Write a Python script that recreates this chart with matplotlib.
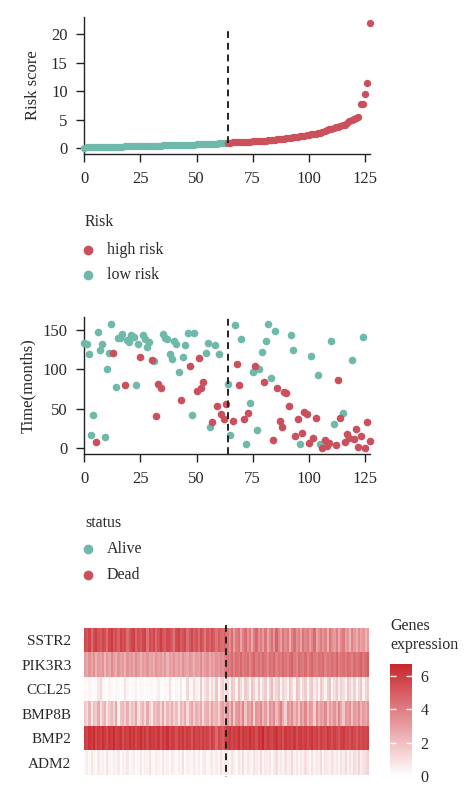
import matplotlib
matplotlib.use("Agg")
import matplotlib.pyplot as plt
import numpy as np
from matplotlib.colors import LinearSegmentedColormap
from matplotlib.lines import Line2D

plt.rcParams['font.family'] = ['Liberation Serif', 'DejaVu Serif']

# ---------------- data ----------------
risk_low = [0.12, 0.14, 0.15, 0.17, 0.18, 0.19, 0.20, 0.21, 0.22, 0.23,
            0.24, 0.25, 0.26, 0.27, 0.28, 0.29, 0.30, 0.31, 0.32, 0.33,
            0.34, 0.35, 0.36, 0.37, 0.38, 0.39, 0.40, 0.41, 0.42, 0.43,
            0.44, 0.45, 0.46, 0.47, 0.48, 0.49, 0.50, 0.51, 0.52, 0.53,
            0.54, 0.55, 0.56, 0.57, 0.58, 0.60, 0.61, 0.62, 0.64, 0.65,
            0.67, 0.68, 0.70, 0.71, 0.73, 0.75, 0.77, 0.79, 0.81, 0.83,
            0.85, 0.88, 0.91, 0.95]
risk_high = [0.98, 1.00, 1.02, 1.04, 1.06, 1.08, 1.10, 1.12, 1.14, 1.16,
             1.18, 1.20, 1.22, 1.24, 1.26, 1.29, 1.32, 1.35, 1.38, 1.41,
             1.45, 1.50, 1.55, 1.60, 1.65, 1.70, 1.76, 1.82, 1.88, 1.94,
             2.00, 2.06, 2.12, 2.18, 2.24, 2.30, 2.36, 2.43, 2.50, 2.58,
             2.66, 2.75, 2.85, 3.00, 3.20, 3.35, 3.45, 3.55, 3.65, 3.75,
             3.85, 4.00, 4.15, 4.40, 4.70, 5.00, 5.20, 5.30, 5.40, 7.70,
             7.80, 9.50, 11.50, 21.90]

# survival time (months) and status (1 = Dead, 0 = Alive), patients ordered by risk
surv_time = [133, 132, 120, 17, 42, 8, 148, 125, 132, 14,
             101, 121, 158, 121, 78, 140, 140, 145, 80, 137,
             135, 144, 141, 80, 132, 116, 144, 139, 129, 135,
             112, 111, 41, 82, 77, 145, 140, 139, 120, 113,
             136, 132, 97, 61, 116, 131, 146, 104, 42, 146,
             73, 114, 77, 84, 121, 133, 27, 33, 131, 54,
             120, 44, 37, 56, 82, 17, 34, 156, 107, 80,
             138, 37, 5, 45, 58, 97, 105, 23, 101, 122,
             84, 136, 158, 89, 10, 149, 77, 35, 27, 72,
             70, 54, 144, 125, 16, 37, 5, 19, 46, 43,
             7, 117, 13, 39, 93, 5, 0, 10, 3, 7,
             136, 31, 4, 87, 39, 45, 8, 18, 13, 112,
             12, 24, 1.5, 15, 141, 1, 33, 9]
surv_status = [0, 0, 0, 0, 0, 1, 0, 0, 0, 0,
               0, 0, 0, 1, 0, 0, 0, 0, 1, 0,
               0, 0, 0, 0, 0, 1, 0, 0, 0, 0,
               1, 0, 1, 1, 1, 0, 0, 0, 0, 0,
               0, 0, 0, 1, 0, 0, 0, 1, 0, 0,
               1, 1, 1, 1, 0, 0, 0, 1, 0, 1,
               0, 1, 1, 1, 0, 0, 1, 0, 1, 1,
               0, 1, 0, 1, 0, 0, 1, 0, 0, 0,
               1, 0, 0, 0, 1, 0, 1, 1, 1, 1,
               1, 1, 0, 0, 1, 1, 0, 1, 1, 1,
               1, 0, 1, 1, 0, 0, 1, 1, 1, 1,
               0, 0, 1, 1, 1, 0, 1, 1, 1, 0,
               1, 1, 1, 1, 0, 1, 1, 1]

genes = ["SSTR2", "PIK3R3", "CCL25", "BMP8B", "BMP2", "ADM2"]

expr_SSTR2 = [5.6, 5.2, 5.8, 4.6, 5.5, 5.9, 5.3, 4.9, 5.7, 5.4, 4.5, 5.6, 6.0, 5.1, 5.5, 4.8, 5.8, 5.3, 5.6, 4.4,
              5.2, 5.7, 5.9, 4.7, 5.4, 5.0, 5.6, 5.8, 4.3, 5.5, 5.1, 5.7, 4.6, 5.3, 5.9, 5.2, 4.8, 5.6, 5.4, 5.0,
              4.2, 5.5, 5.8, 4.9, 5.3, 5.6, 4.4, 5.1, 5.7, 4.8, 5.3, 4.5, 5.5, 5.0, 4.1, 5.2, 4.7, 5.4, 4.9, 4.3,
              5.0, 4.6, 4.4, 4.8,
              4.2, 3.5, 4.6, 3.0, 4.0, 4.4, 2.8, 3.8, 4.5, 3.3, 4.1, 2.6, 3.9, 4.7, 3.4, 4.0, 3.1, 4.3, 2.7, 3.6,
              4.4, 3.2, 4.8, 3.7, 2.9, 4.2, 3.5, 4.0, 2.5, 3.8, 4.5, 3.3, 3.9, 2.8, 4.3, 3.6, 4.1, 3.0, 3.7, 4.6,
              2.7, 3.4, 4.0, 3.2, 3.8, 2.4, 4.2, 3.5, 3.0, 3.9, 2.6, 3.6, 4.1, 2.9, 3.3, 2.3, 3.8, 3.1, 2.5, 3.5,
              2.8, 3.2, 2.4, 3.0]
expr_PIK3R3 = [3.0, 2.6, 3.3, 2.8, 3.5, 2.4, 3.1, 2.9, 3.4, 2.2, 3.2, 2.7, 3.6, 3.0, 2.5, 3.3, 2.8, 3.1, 2.3, 3.4,
               2.9, 3.2, 2.6, 3.5, 3.0, 2.4, 3.1, 2.8, 3.3, 2.7, 3.0, 2.5, 3.4, 2.9, 3.1, 2.6, 3.2, 2.3, 3.0, 2.8,
               3.3, 2.7, 3.1, 2.5, 3.4, 2.9, 2.6, 3.2, 3.0, 2.4, 3.1, 2.8, 3.5, 2.7, 3.0, 3.3, 2.6, 3.2, 2.9, 3.4,
               3.1, 3.6, 3.3, 3.8,
               4.3, 4.0, 4.6, 3.8, 4.4, 4.1, 4.7, 3.9, 4.2, 4.5, 3.7, 4.3, 4.8, 4.0, 4.4, 3.9, 4.6, 4.2, 3.6, 4.5,
               4.1, 4.7, 3.8, 4.3, 4.0, 4.6, 4.2, 3.9, 4.4, 4.8, 4.1, 3.7, 4.5, 4.2, 4.0, 4.6, 3.8, 4.3, 4.7, 4.1,
               3.9, 4.4, 4.2, 4.6, 3.8, 4.3, 4.0, 4.5, 4.1, 4.7, 3.9, 4.2, 4.4, 4.0, 4.6, 4.3, 3.8, 4.5, 4.1, 4.4,
               4.8, 4.2, 4.6, 4.9]
expr_CCL25 = [0.2, 0.1, 0.3, 0.2, 0.1, 0.2, 0.8, 1.2, 0.3, 0.2, 0.1, 0.4, 0.2, 0.1, 0.3, 0.2, 0.1, 0.2, 0.9, 0.3,
              0.1, 0.2, 0.2, 0.5, 0.1, 0.3, 0.2, 0.1, 0.2, 0.2, 0.3, 0.1, 0.2, 0.6, 0.2, 0.1, 0.3, 0.2, 1.0, 0.2,
              0.1, 0.3, 0.2, 0.8, 0.1, 0.2, 1.3, 0.3, 0.2, 1.1, 0.5, 0.2, 1.6, 0.3, 0.9, 1.4, 0.4, 1.2, 0.6, 1.8,
              0.3, 1.0, 1.5, 0.7,
              1.2, 0.3, 1.8, 1.5, 0.4, 2.0, 1.1, 0.2, 1.6, 1.3, 0.3, 1.9, 1.4, 0.5, 1.7, 0.2, 1.2, 1.6, 0.3, 1.5,
              2.1, 0.6, 1.3, 1.8, 0.2, 1.4, 1.0, 0.4, 1.7, 1.2, 0.3, 1.9, 1.5, 0.5, 1.1, 1.6, 0.2, 1.4, 1.8, 0.6,
              1.3, 0.3, 1.7, 1.2, 0.4, 1.5, 1.9, 0.2, 1.1, 1.6, 0.5, 1.4, 1.0, 0.3, 1.7, 1.3, 0.6, 1.5, 0.2, 1.2,
              1.8, 0.4, 1.3, 1.6]
expr_BMP8B = [1.8, 1.2, 2.3, 0.6, 2.0, 1.5, 2.6, 1.0, 1.9, 2.4, 0.8, 1.7, 2.2, 1.3, 2.7, 0.5, 1.9, 2.1, 1.4, 2.5,
              1.1, 2.0, 1.6, 2.8, 0.9, 1.8, 2.3, 1.2, 2.6, 1.5, 0.7, 2.1, 1.9, 2.4, 1.3, 2.7, 1.0, 2.2, 1.6, 2.5,
              1.4, 2.0, 0.8, 2.3, 1.7, 2.6, 1.2, 2.1, 2.8, 1.5, 2.4, 1.9, 2.7, 1.1, 2.2, 2.5, 1.6, 2.9, 2.0, 2.3,
              1.4, 2.6, 3.0, 2.2,
              3.2, 2.1, 3.6, 1.5, 3.0, 3.4, 2.4, 3.8, 1.8, 3.1, 2.7, 3.5, 1.3, 3.2, 2.9, 3.7, 2.2, 3.0, 1.6, 3.4,
              2.8, 3.6, 2.0, 3.1, 3.9, 2.5, 1.4, 3.3, 2.7, 3.5, 2.2, 3.0, 1.8, 3.4, 2.6, 3.7, 2.1, 3.2, 2.9, 1.5,
              3.5, 2.4, 3.1, 2.8, 3.6, 1.9, 3.0, 2.5, 3.3, 2.2, 3.8, 2.6, 1.7, 3.2, 2.9, 3.4, 2.0, 3.1, 2.7, 3.5,
              2.3, 3.0, 2.6, 3.3]
expr_BMP2 = [6.0, 5.7, 6.3, 5.9, 6.5, 5.6, 6.1, 5.8, 6.4, 6.0, 5.5, 6.2, 5.9, 6.6, 5.7, 6.0, 6.3, 5.4, 6.1, 5.8,
             6.4, 5.9, 6.2, 5.6, 6.0, 6.5, 5.8, 6.1, 5.5, 6.3, 5.9, 6.0, 5.7, 6.2, 5.4, 6.1, 5.8, 6.4, 5.6, 6.0,
             5.9, 5.3, 6.1, 5.7, 6.2, 5.5, 6.0, 5.8, 5.2, 6.1, 5.7, 5.9, 5.4, 6.0, 5.6, 5.8, 5.1, 5.9, 5.5, 4.6,
             5.7, 5.3, 4.9, 5.6,
             5.9, 6.2, 5.6, 6.0, 5.8, 6.4, 5.5, 6.1, 5.9, 5.7, 6.3, 5.8, 6.0, 5.4, 6.2, 5.9, 6.6, 5.6, 6.1, 5.8,
             5.5, 6.0, 6.3, 5.7, 5.9, 5.3, 6.1, 5.8, 6.0, 5.6, 6.2, 5.4, 5.9, 6.1, 5.7, 6.0, 5.5, 5.8, 6.2, 5.6,
             5.9, 5.3, 6.0, 5.7, 5.5, 6.1, 5.8, 5.4, 5.9, 5.6, 5.2, 5.8, 6.0, 5.5, 5.7, 5.3, 5.9, 5.6, 5.1, 5.8,
             5.4, 5.7, 5.5, 5.9]
expr_ADM2 = [0.3, 0.6, 0.2, 0.8, 0.4, 0.1, 0.7, 0.3, 0.5, 0.2, 0.9, 0.4, 0.2, 0.6, 0.3, 0.7, 0.1, 0.5, 0.3, 0.8,
             0.2, 0.4, 0.6, 0.1, 0.3, 0.7, 0.2, 0.5, 0.4, 0.9, 0.3, 0.1, 0.6, 0.4, 0.2, 0.8, 0.3, 0.5, 0.1, 0.7,
             0.4, 0.2, 0.6, 0.3, 0.9, 0.1, 0.5, 0.4, 0.2, 0.7, 0.3, 0.6, 0.1, 0.5, 0.8, 0.2, 0.4, 0.7, 0.3, 0.6,
             0.2, 0.9, 0.4, 0.5,
             0.6, 0.3, 0.9, 0.5, 0.2, 0.8, 0.4, 1.0, 0.3, 0.7, 0.5, 0.2, 0.9, 0.6, 0.4, 1.1, 0.3, 0.7, 0.5, 0.8,
             0.2, 0.6, 1.0, 0.4, 0.7, 0.3, 0.9, 0.5, 0.6, 1.2, 0.4, 0.8, 0.3, 0.7, 0.5, 1.0, 0.6, 0.2, 0.9, 0.4,
             0.7, 0.5, 1.1, 0.3, 0.8, 0.6, 0.4, 1.0, 0.5, 0.7, 0.3, 0.9, 0.6, 1.2, 0.4, 0.8, 0.5, 1.0, 0.7, 1.3,
             0.6, 0.9, 1.1, 1.4]

x_ticks = [0, 25, 50, 75, 100, 125]
risk_yticks = [0, 5, 10, 15, 20]
time_yticks = [0, 50, 100, 150]
cbar_ticks = [0, 2, 4, 6]

# ---------------- style ----------------
RED = '#CC4F5C'
TEAL = '#6FB9AA'
TXT = '#2a2a2a'
FS = 12
FS_LEG = 11.5
FS_GENE = 11

W, H = 474, 797
fig = plt.figure(figsize=(W / 100, H / 100), dpi=100)


def ax_px(l, t, r, b):
    return fig.add_axes([l / W, 1 - b / H, (r - l) / W, (b - t) / H])


n_low = len(risk_low)
n = n_low + len(risk_high)
idx = np.arange(n)
cut = n_low


def style_axis(ax):
    for s in ['top', 'right']:
        ax.spines[s].set_visible(False)
    for s in ['left', 'bottom']:
        ax.spines[s].set_linewidth(1.0)
        ax.spines[s].set_color('#222222')
    ax.tick_params(length=6, width=1.0, color='#222222', labelsize=FS, labelcolor=TXT, pad=6)
    ax.set_xlim(0, n - 1)
    ax.set_xticks(x_ticks)


# ---- top: risk score ----
ax1 = ax_px(84.3, 17, 369.5, 154)
style_axis(ax1)
ax1.scatter(idx[:cut], risk_low, s=28, color=TEAL, lw=0, clip_on=False, zorder=3)
ax1.scatter(idx[cut:], risk_high, s=28, color=RED, lw=0, clip_on=False, zorder=3)
ax1.set_ylim(-1, 23)
ax1.set_yticks(risk_yticks)
ax1.plot([cut, cut], [0.9, 21.2], ls=(0, (3.5, 2.5)), color='#222222', lw=1.4, zorder=4)
ax1.set_ylabel('Risk score', fontsize=FS, color=TXT, labelpad=7)

# ---- middle: survival time ----
ax2 = ax_px(84.3, 317, 369.5, 454.3)
style_axis(ax2)
st = np.array(surv_status)
tt = np.array(surv_time, dtype=float)
ax2.scatter(idx[st == 0], tt[st == 0], s=30, color=TEAL, lw=0, clip_on=False, zorder=3)
ax2.scatter(idx[st == 1], tt[st == 1], s=30, color=RED, lw=0, clip_on=False, zorder=3)
ax2.set_ylim(-7.6, 166.5)
ax2.set_yticks(time_yticks)
ax2.axvline(cut, ls=(0, (3.5, 2.5)), color='#222222', lw=1.4, zorder=4)
ax2.set_ylabel('Time(months)', fontsize=FS, color=TXT, labelpad=5)

# ---- legends ----
def legend_block(title, labels, colors, y_title, y_items):
    fig.text(85 / W, 1 - y_title / H, title, fontsize=FS_LEG, color=TXT, va='center', ha='left')
    for lab, col, yy in zip(labels, colors, y_items):
        fig.add_artist(Line2D([88 / W], [1 - yy / H], marker='o', ms=6, color=col, lw=0,
                              transform=fig.transFigure))
        fig.text(107 / W, 1 - yy / H, lab, fontsize=FS_LEG, color=TXT, va='center', ha='left')


legend_block('Risk', ['high risk', 'low risk'], [RED, TEAL], 222, [250, 275])
legend_block('status', ['Alive', 'Dead'], [TEAL, RED], 523, [549, 575])

# ---- heatmap ----
expr = np.array([expr_SSTR2, expr_PIK3R3, expr_CCL25, expr_BMP8B, expr_BMP2, expr_ADM2])
cmap = LinearSegmentedColormap.from_list('wr', ['#FFFFFF', '#C8262C'])
ax3 = ax_px(84, 628, 369, 775)
im = ax3.imshow(expr, aspect='auto', cmap=cmap, vmin=0, vmax=6.7, interpolation='nearest',
                extent=(0, n, len(genes), 0))
ax3.set_xlim(0, n)
ax3.set_ylim(len(genes), 0)
for s in ax3.spines.values():
    s.set_visible(False)
ax3.set_xticks([])
ax3.set_yticks(np.arange(len(genes)) + 0.5)
ax3.set_yticklabels(genes, fontsize=FS_GENE, color=TXT)
ax3.tick_params(axis='y', length=0, pad=9)
ax3.plot([cut, cut], [-0.12, 6.08], ls=(0, (3.5, 2.5)), color='#222222', lw=1.4, clip_on=False, zorder=4)

# ---- colorbar ----
cax = ax_px(390, 664, 412, 776)
cb = fig.colorbar(im, cax=cax)
cb.outline.set_visible(False)
cb.set_ticks(cbar_ticks)
cax.tick_params(which='both', left=True, right=True, direction='in', length=4, width=1,
                color='white', labelsize=FS_LEG, labelcolor=TXT, pad=6)
fig.text(390 / W, 1 - 626 / H, 'Genes', fontsize=FS_LEG, color=TXT, va='center', ha='left')
fig.text(390 / W, 1 - 645 / H, 'expression', fontsize=FS_LEG, color=TXT, va='center', ha='left')

fig.savefig('out.png', dpi=100)
